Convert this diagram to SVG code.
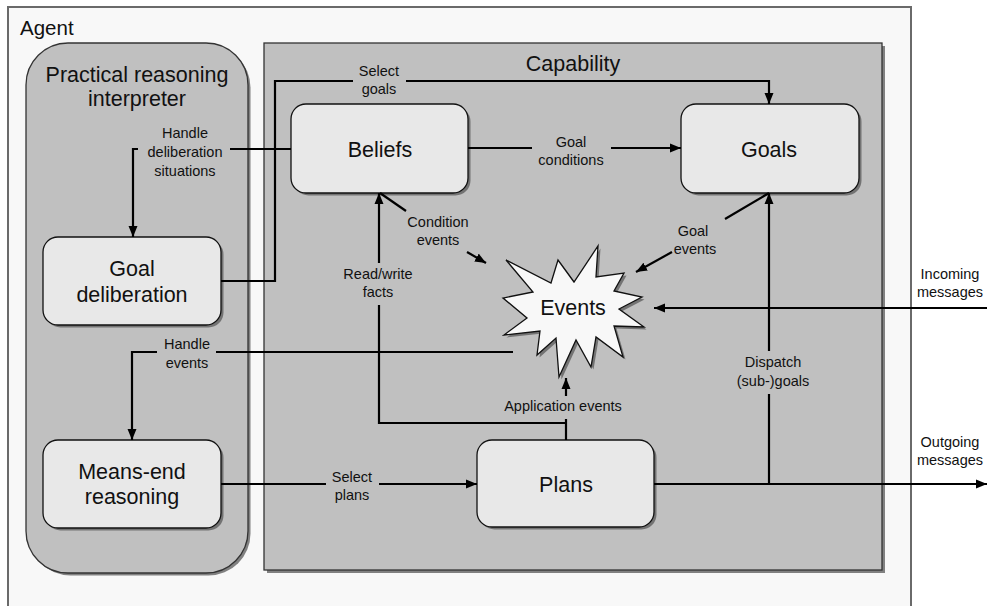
<svg xmlns="http://www.w3.org/2000/svg" width="987" height="606" viewBox="0 0 987 606">
<defs>
<marker id="ah" markerUnits="userSpaceOnUse" markerWidth="12" markerHeight="10" refX="11" refY="5" orient="auto">
<path d="M0,0.5 L11,5 L0,9.5 z" fill="#000"/>
</marker>
<style>
.title{font-family:"Liberation Sans",Arial,sans-serif;font-size:21.5px;fill:#111;text-anchor:middle}
.lbl{font-family:"Liberation Sans",Arial,sans-serif;font-size:14.5px;fill:#111;text-anchor:middle}
.node{fill:#e8e8e8;stroke:#111;stroke-width:1.3}
.shadow{fill:#5a5a5a;opacity:0.75}
.conn path{fill:none;stroke:#000;stroke-width:2.2}
.arr{marker-end:url(#ah)}
</style>
</defs>
<rect width="987" height="606" fill="#ffffff"/>
<g id="agent">
<rect x="8" y="7" width="903" height="620" fill="#f8f8f8" stroke="#6a6a6a" stroke-width="2"/>
<text x="20" y="35" class="title" style="text-anchor:start;font-size:20.5px">Agent</text>
</g>
<g id="interpreter">
<rect x="28.5" y="45.5" width="222" height="530" rx="42" class="shadow"/>
<rect x="26" y="43" width="222" height="530" rx="42" fill="#c0c0c0" stroke="#333" stroke-width="1.3"/>
<text x="137" y="82" class="title">Practical reasoning</text>
<text x="137" y="106" class="title">interpreter</text>
</g>
<g id="capability">
<rect x="267" y="46" width="618" height="527" class="shadow"/>
<rect x="264" y="43" width="618" height="527" fill="#c0c0c0" stroke="#333" stroke-width="1.3"/>
<text x="573" y="71" class="title">Capability</text>
</g>
<g id="beliefs">
<rect x="293.5" y="106.5" width="177" height="89" rx="15" class="shadow"/>
<rect x="291" y="104" width="177" height="89" rx="15" class="node"/>
<text x="380" y="157" class="title">Beliefs</text>
</g>
<g id="goals">
<rect x="683.5" y="106.5" width="178" height="89" rx="15" class="shadow"/>
<rect x="681" y="104" width="178" height="89" rx="15" class="node"/>
<text x="769" y="157" class="title">Goals</text>
</g>
<g id="goal-deliberation">
<rect x="45.5" y="239.5" width="178" height="88" rx="15" class="shadow"/>
<rect x="43" y="237" width="178" height="88" rx="15" class="node"/>
<text x="132" y="276" class="title">Goal</text>
<text x="132" y="302" class="title">deliberation</text>
</g>
<g id="means-end">
<rect x="45.5" y="442.5" width="178" height="88" rx="15" class="shadow"/>
<rect x="43" y="440" width="178" height="88" rx="15" class="node"/>
<text x="132" y="479" class="title">Means-end</text>
<text x="132" y="504" class="title">reasoning</text>
</g>
<g id="plans">
<rect x="479.5" y="442.5" width="177" height="87" rx="15" class="shadow"/>
<rect x="477" y="440" width="177" height="87" rx="15" class="node"/>
<text x="566" y="492" class="title">Plans</text>
</g>
<g id="events">
<polygon transform="translate(2.5,2.5)" class="shadow" points="598,246 596,277 624,273 614,291 642,297 619,309 644,327 614,326 623,357 596,337 591,367 576,340 559,377 556,338 537,355 540,331 504,335 527,318 503,298 533,292 506,260 551,283 558,260 574,282"/>
<polygon fill="#f8f8f8" stroke="#111" stroke-width="1.3" stroke-linejoin="miter" points="598,246 596,277 624,273 614,291 642,297 619,309 644,327 614,326 623,357 596,337 591,367 576,340 559,377 556,338 537,355 540,331 504,335 527,318 503,298 533,292 506,260 551,283 558,260 574,282"/>
<text x="573" y="315" class="title">Events</text>
</g>
<g id="connectors" class="conn">
<path d="M221,281 H275 V81 H353"/>
<path class="arr" d="M406,81 H769 V104"/>
<path d="M291,149 H230"/>
<path class="arr" d="M138,149 H133 V237"/>
<path d="M468,148 H532"/>
<path class="arr" d="M611,148 H681"/>
<path d="M380,193 L406,211"/>
<path class="arr" d="M467,252 L486,263"/>
<path d="M769,193 L725,219"/>
<path class="arr" d="M672,252 L636,272"/>
<path d="M566,440 V419"/>
<path d="M566,423 H379 V305"/>
<path class="arr" d="M379,263 V193"/>
<path class="arr" d="M566,396 V378"/>
<path d="M513,352 H216"/>
<path class="arr" d="M157,352 H132 V440"/>
<path class="arr" d="M987,308 H654"/>
<path class="arr" d="M654,484 H987"/>
<path d="M769,484 V394"/>
<path class="arr" d="M769,351 V193"/>
<path d="M221,484 H326"/>
<path class="arr" d="M379,484 H477"/>
</g>
<g id="labels">
<text x="379" y="76" class="lbl">Select</text>
<text x="379" y="94" class="lbl">goals</text>
<text x="185" y="138" class="lbl">Handle</text>
<text x="185" y="157" class="lbl">deliberation</text>
<text x="185" y="176" class="lbl">situations</text>
<text x="571" y="147" class="lbl">Goal</text>
<text x="571" y="165" class="lbl">conditions</text>
<text x="438" y="227" class="lbl">Condition</text>
<text x="438" y="245" class="lbl">events</text>
<text x="693" y="236" class="lbl">Goal</text>
<text x="695" y="254" class="lbl">events</text>
<text x="378" y="279" class="lbl">Read/write</text>
<text x="378" y="297" class="lbl">facts</text>
<text x="563" y="411" class="lbl">Application events</text>
<text x="187" y="349" class="lbl">Handle</text>
<text x="187" y="368" class="lbl">events</text>
<text x="950" y="279" class="lbl">Incoming</text>
<text x="950" y="297" class="lbl">messages</text>
<text x="950" y="447" class="lbl">Outgoing</text>
<text x="950" y="465" class="lbl">messages</text>
<text x="773" y="367" class="lbl">Dispatch</text>
<text x="773" y="386" class="lbl">(sub-)goals</text>
<text x="352" y="482" class="lbl">Select</text>
<text x="352" y="500" class="lbl">plans</text>
</g>
</svg>
